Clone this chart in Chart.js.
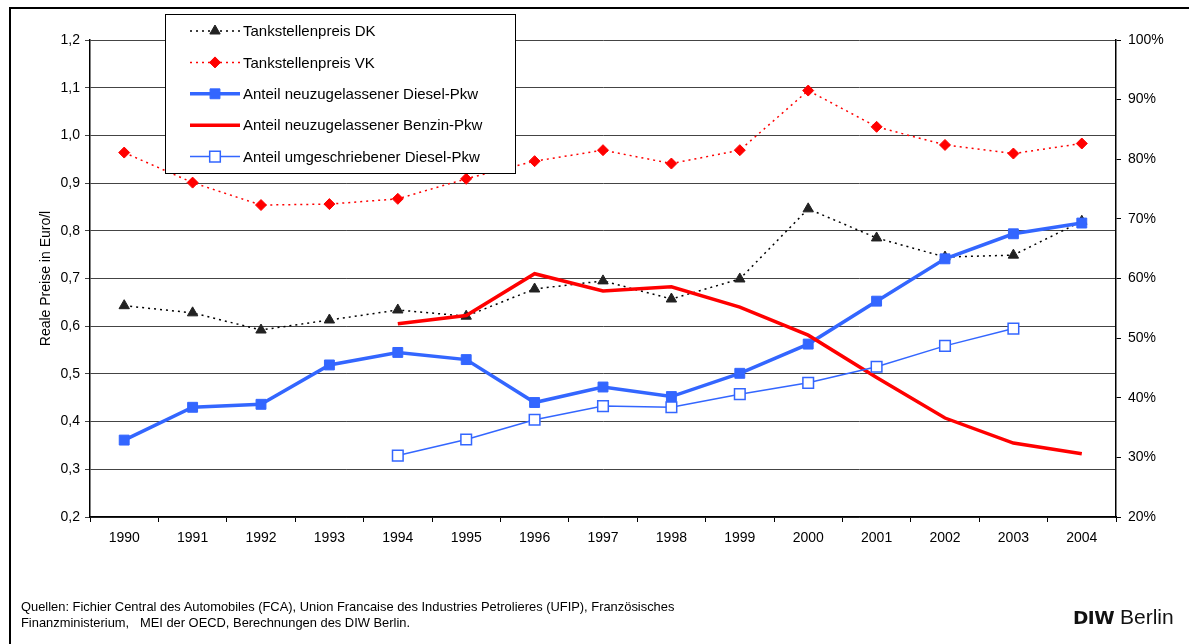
<!DOCTYPE html>
<html>
<head>
<meta charset="utf-8">
<script src="https://cdn.jsdelivr.net/npm/chart.js@4/dist/chart.umd.min.js"></script>
<style>
  body { margin: 0; background: #fff; font-family: "Liberation Sans", Arial, sans-serif; }
  #wrap { position: relative; width: 1189px; height: 644px; overflow: hidden; }
  #frame { position: absolute; left: 9px; top: 7px; width: 1200px; height: 700px;
           border-left: 2px solid #000; border-top: 2px solid #000; }
  #chart { position: absolute; left: 0; top: 0; }
  #quellen { position: absolute; left: 21px; top: 599px; font-size: 12.9px; line-height: 16px; color: #000; }
  #diw { position: absolute; left: 1073px; top: 605px; font-size: 21px; color: #111; white-space: nowrap; }
  #diw b { font-family: "DejaVu Sans", sans-serif; font-size: 18.5px; letter-spacing: -0.5px; }
</style>
</head>
<body>
<div id="wrap">
  <div id="frame"></div>
  <canvas id="chart" width="1189" height="644"></canvas>
  <div id="quellen">Quellen: Fichier Central des Automobiles (FCA), Union Francaise des Industries Petrolieres (UFIP), Französisches<br>Finanzministerium,&nbsp;&nbsp; MEI der OECD, Berechnungen des DIW Berlin.</div>
  <div id="diw"><b>DIW</b> Berlin</div>
</div>
<script>
var years = ["1990","1991","1992","1993","1994","1995","1996","1997","1998","1999","2000","2001","2002","2003","2004"];

// Euro per litre (left axis)
var preisDK = [0.643, 0.628, 0.592, 0.613, 0.634, 0.621, 0.678, 0.695, 0.657, 0.699, 0.846, 0.785, 0.745, 0.749, 0.82];
var preisVK = [0.964, 0.901, 0.854, 0.856, 0.867, 0.909, 0.946, 0.969, 0.941, 0.969, 1.094, 1.018, 0.980, 0.962, 0.983];

// shares in percent (right axis)
var dieselNeu = [32.9, 38.4, 38.9, 45.5, 47.6, 46.4, 39.2, 41.8, 40.2, 44.1, 49.0, 56.2, 63.3, 67.5, 69.3];
var benzinNeu = [null, null, null, null, 52.4, 53.8, 60.8, 57.9, 58.6, 55.2, 50.5, 43.4, 36.6, 32.4, 30.6];
var dieselUmg = [null, null, null, null, 30.3, 33.0, 36.3, 38.6, 38.4, 40.6, 42.5, 45.2, 48.7, 51.6, null];

var leftTicks = [0.2, 1.2, 0.1];
var rightTicks = [20, 100, 10];

var BLUE = "#3366ff", RED = "#ff0000";
var FONT = "'Liberation Sans', Arial, sans-serif";

// legend box drawn over the plot area
var boxLegend = {
  id: "boxLegend",
  afterDraw: function (chart) {
    var ctx = chart.ctx;
    var x0 = 165, y0 = 14, w = 350, h = 159;
    ctx.save();
    ctx.fillStyle = "#fff";
    ctx.fillRect(x0, y0, w, h);
    ctx.strokeStyle = "#000";
    ctx.lineWidth = 1;
    ctx.strokeRect(x0 + 0.5, y0 + 0.5, w, h);
    chart.data.datasets.forEach(function (ds, i) {
      var y = 31 + i * 31.4;
      ctx.save();
      ctx.strokeStyle = ds.borderColor;
      ctx.lineWidth = ds.borderWidth;
      ctx.setLineDash(ds.borderDash || []);
      ctx.beginPath();
      ctx.moveTo(190, y);
      ctx.lineTo(240, y);
      ctx.stroke();
      ctx.restore();
      if (ds.pointRadius > 0) {
        ctx.save();
        ctx.fillStyle = ds.pointBackgroundColor;
        ctx.strokeStyle = ds.pointBorderColor;
        ctx.lineWidth = ds.pointBorderWidth;
        Chart.helpers.drawPoint(ctx, { pointStyle: ds.pointStyle, radius: ds.pointRadius, borderWidth: ds.pointBorderWidth }, 215, y);
        ctx.restore();
      }
      ctx.fillStyle = "#000";
      ctx.font = "15px " + FONT;
      ctx.textBaseline = "middle";
      ctx.fillText(ds.label, 243, y + 1);
    });
    ctx.restore();
  }
};

new Chart(document.getElementById("chart"), {
  type: "line",
  data: {
    labels: years,
    datasets: [
      { label: "Tankstellenpreis DK", data: preisDK, yAxisID: "y",
        borderColor: "#000", borderWidth: 1.5, borderDash: [2, 4],
        pointStyle: "triangle", pointRadius: 6, pointBackgroundColor: "#222", pointBorderColor: "#222", pointBorderWidth: 1, order: 5 },
      { label: "Tankstellenpreis VK", data: preisVK, yAxisID: "y",
        borderColor: RED, borderWidth: 1.5, borderDash: [2, 4],
        pointStyle: "rectRot", pointRadius: 5.5, pointBackgroundColor: RED, pointBorderColor: RED, pointBorderWidth: 1, order: 4 },
      { label: "Anteil neuzugelassener Diesel-Pkw", data: dieselNeu, yAxisID: "y1",
        borderColor: BLUE, borderWidth: 3.5,
        pointStyle: "rect", pointRadius: 7, pointBackgroundColor: BLUE, pointBorderColor: BLUE, pointBorderWidth: 1, order: 3 },
      { label: "Anteil neuzugelassener Benzin-Pkw", data: benzinNeu, yAxisID: "y1",
        borderColor: RED, borderWidth: 3.5, pointRadius: 0, order: 2 },
      { label: "Anteil umgeschriebener Diesel-Pkw", data: dieselUmg, yAxisID: "y1",
        borderColor: BLUE, borderWidth: 1.5,
        pointStyle: "rect", pointRadius: 7.5, pointBackgroundColor: "#fff", pointBorderColor: BLUE, pointBorderWidth: 1.5, order: 1 }
    ]
  },
  options: {
    responsive: false,
    animation: false,
    spanGaps: false,
    layout: { padding: { left: 38, top: 40, right: 13, bottom: 97 } },
    elements: { line: { tension: 0 } },
    plugins: { legend: { display: false }, tooltip: { enabled: false } },
    scales: {
      x: {
        offset: true,
        grid: { offset: true, drawOnChartArea: false, drawTicks: true, tickLength: 5, color: "#000" },
        border: { color: "#000", width: 1.5 },
        ticks: { color: "#000", padding: 8, font: { family: FONT, size: 14 }, maxRotation: 0 },
        afterFit: function (s) { s.height = 30; }
      },
      y: {
        position: "left",
        min: leftTicks[0], max: leftTicks[1],
        ticks: { stepSize: leftTicks[2], color: "#000", padding: 5, font: { family: FONT, size: 14 },
                 callback: function (v) { return v.toFixed(1).replace(".", ","); } },
        grid: { color: "#444", lineWidth: 1, tickLength: 5 },
        border: { color: "#000", width: 1.5 },
        title: { display: true, text: "Reale Preise in Euro/l", color: "#000", padding: 0, font: { family: FONT, size: 14 } },
        afterFit: function (s) { s.width = 52; }
      },
      y1: {
        position: "right",
        min: rightTicks[0], max: rightTicks[1],
        ticks: { stepSize: rightTicks[2], color: "#000", padding: 7, font: { family: FONT, size: 14 },
                 callback: function (v) { return v + "%"; } },
        grid: { drawOnChartArea: false, color: "#000", tickLength: 5 },
        border: { color: "#000", width: 1.5 },
        afterFit: function (s) { s.width = 60; }
      }
    }
  },
  plugins: [boxLegend]
});
</script>
</body>
</html>
